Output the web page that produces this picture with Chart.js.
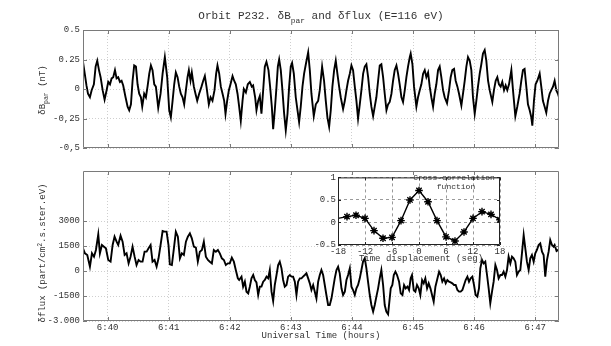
<!DOCTYPE html>
<html>
<head>
<meta charset="utf-8">
<title>Orbit P232</title>
<script src="https://cdn.jsdelivr.net/npm/chart.js@4.4.1/dist/chart.umd.min.js"></script>
<style>
  html, body { margin: 0; padding: 0; background: #fff; }
  #fig { position: relative; width: 611px; height: 346px; overflow: hidden; background: #fff;
         font-family: "Liberation Mono", "DejaVu Sans Mono", monospace; color: #333; }
  #fig canvas { position: absolute; }
  .lbl { position: absolute; white-space: nowrap; line-height: 1; transform: translate(-50%, -50%); }
  .rot { transform: translate(-50%, -50%) rotate(-90deg); }
  .lbl sub { font-size: 72%; vertical-align: baseline; position: relative; top: 0.5em; }
  .lbl sup { font-size: 72%; vertical-align: baseline; position: relative; top: -0.5em; }
</style>
</head>
<body>
<div id="fig">
  <canvas id="topChart" width="611" height="160" style="left:0;top:0"></canvas>
  <canvas id="botChart" width="611" height="186" style="left:0;top:160px"></canvas>
  <canvas id="corrChart" width="210" height="95" style="left:300px;top:170px"></canvas>

  <div class="lbl" style="left:321px;top:16px;font-size:11px">Orbit P232. δB<sub>par</sub> and δflux (E=116 eV)</div>
  <div class="lbl rot" style="left:43px;top:90px;font-size:9px">δB<sub>par</sub> (nT)</div>
  <div class="lbl rot" style="left:43px;top:253px;font-size:9px">δflux (part/cm<sup>2</sup>.s.ster.eV)</div>
  <div class="lbl" style="left:321px;top:336px;font-size:9px">Universal Time (hours)</div>
  <div class="lbl" style="left:454px;top:178px;font-size:8px">Cross-correlation</div>
  <div class="lbl" style="left:456px;top:187px;font-size:8px">function</div>
  <div class="lbl" style="left:421px;top:259px;font-size:9px">Time displacement (seg)</div>
</div>

<script>
// time = seconds after 6:40:00 UT
const bTime = [
  -24.2, -22.3, -20.8, -19.3, -17.4, -15.7, -13.5, -11.8, -10.2, -8.5,
  -6.9, -4.9, -3.0, -1.0, 0.6, 2.3, 3.9, 5.5, 7.2, 8.8,
  10.4, 12.1, 13.7, 15.3, 17.6, 19.6, 21.2, 22.9, 24.5, 26.1,
  27.8, 29.4, 31.0, 32.7, 34.0, 35.9, 37.6, 39.2, 40.9, 42.5,
  44.1, 45.8, 47.4, 49.7, 52.0, 54.0, 56.2, 58.5, 60.5, 62.1,
  63.8, 65.4, 67.0, 68.7, 70.3, 71.9, 73.6, 75.2, 76.9, 78.5,
  79.8, 81.4, 82.7, 84.7, 86.3, 88.0, 89.9, 92.2, 93.9, 95.5,
  97.1, 99.4, 101.1, 103.0, 105.0, 106.6, 107.9, 109.6, 111.2, 112.9,
  114.5, 115.8, 117.4, 119.1, 120.7, 122.7, 124.3, 125.9, 127.6, 129.2,
  130.8, 132.5, 133.8, 135.8, 137.7, 139.7, 141.6, 142.9, 144.9, 146.2,
  147.9, 149.5, 151.1, 152.8, 154.4, 156.0, 158.0, 159.6, 161.3, 162.6,
  164.2, 165.9, 167.2, 168.5, 170.1, 171.7, 173.4, 175.0, 176.7, 178.3,
  179.9, 181.2, 182.9, 184.8, 186.5, 188.1, 189.7, 191.4, 193.0, 194.7,
  197.0, 198.6, 200.2, 202.5, 204.5, 206.8, 208.4, 210.7, 212.6, 214.3,
  215.9, 217.6, 219.2, 220.8, 222.5, 224.1, 225.7, 227.4, 229.0, 231.3,
  233.0, 234.6, 236.2, 237.9, 239.5, 241.1, 242.8, 244.4, 246.0, 247.7,
  249.3, 251.0, 252.6, 254.2, 255.9, 257.5, 259.1, 260.8, 262.4, 264.0,
  265.7, 267.3, 268.9, 270.6, 272.2, 273.9, 275.5, 277.1, 278.8, 280.4,
  282.0, 283.7, 285.3, 286.9, 288.6, 290.2, 291.9, 293.5, 295.1, 296.8,
  297.7, 299.4, 301.0, 303.3, 304.9, 306.6, 308.2, 309.9, 311.5, 313.1,
  314.8, 316.4, 318.0, 319.7, 321.3, 322.9, 324.6, 326.2, 327.8, 329.5,
  331.1, 333.4, 335.4, 337.0, 338.6, 340.3, 341.9, 343.6, 345.2, 347.5,
  349.1, 350.8, 352.4, 354.0, 355.7, 357.3, 358.9, 360.6, 362.2, 363.8,
  365.5, 367.1, 368.7, 370.4, 372.0, 373.7, 375.3, 377.9, 379.5, 381.2,
  382.8, 384.4, 386.1, 387.7, 389.4, 391.0, 392.6, 394.3, 396.6, 398.2,
  400.5, 402.4, 404.7, 406.4, 408.0, 409.6, 411.3, 412.9, 414.6, 416.2,
  417.2, 418.8, 420.4, 422.1, 424.4, 426.0, 427.6, 429.3, 430.9, 432.6,
  434.2, 435.8, 437.5, 439.1, 440.7, 442.4, 443.4
];
// delta B parallel (nT)
const bVal = [
  0.23, 0.12, 0.03, -0.04, -0.07, -0.01, 0.04, 0.19, 0.24, 0.16,
  0.10, -0.01, -0.09, -0.01, 0.06, 0.04, 0.09, 0.10, 0.16, 0.09,
  0.10, 0.06, 0.07, 0.03, -0.07, -0.15, -0.18, -0.13, 0.07, 0.20,
  0.19, 0.04, -0.04, -0.07, -0.15, -0.04, -0.07, 0.02, 0.13, 0.20,
  0.16, 0.04, 0.02, -0.16, -0.04, 0.13, 0.27, 0.10, -0.18, -0.24,
  -0.10, 0.04, 0.14, 0.10, 0.02, -0.04, -0.07, -0.13, -0.01, 0.10,
  0.16, 0.07, 0.14, 0.02, -0.04, -0.10, -0.04, 0.02, 0.07, 0.11,
  0.02, -0.13, -0.07, -0.10, -0.01, 0.13, 0.20, 0.13, 0.02, -0.04,
  -0.10, -0.21, -0.10, -0.01, 0.04, 0.11, 0.07, 0.04, -0.04, -0.15,
  -0.27, -0.10, 0.00, -0.03, 0.04, 0.06, 0.02, 0.03, -0.07, -0.18,
  -0.10, -0.06, -0.21, -0.01, 0.19, 0.23, 0.16, 0.02, -0.15, -0.34,
  -0.18, 0.02, 0.19, 0.25, 0.16, -0.01, -0.21, -0.35, -0.21, 0.02,
  0.19, 0.22, 0.13, -0.07, -0.18, -0.28, -0.15, 0.02, 0.13, 0.21,
  0.31, 0.16, -0.04, -0.23, -0.13, -0.10, -0.01, 0.19, 0.07, -0.10,
  -0.24, -0.32, -0.18, 0.02, 0.16, 0.24, 0.13, 0.02, -0.07, -0.17,
  -0.10, -0.01, 0.07, 0.13, 0.20, 0.16, 0.02, -0.10, -0.25, -0.13,
  -0.01, 0.13, 0.19, 0.21, 0.10, -0.04, -0.15, -0.23, -0.15, -0.07,
  0.07, 0.20, 0.21, 0.10, -0.04, -0.18, -0.13, -0.11, -0.04, 0.07,
  0.16, 0.20, 0.13, 0.04, -0.07, -0.11, -0.01, 0.10, 0.19, 0.27,
  0.30, 0.21, 0.02, -0.15, -0.07, -0.01, 0.04, 0.13, 0.16, 0.10,
  0.14, 0.02, -0.07, -0.15, -0.04, 0.04, 0.16, 0.19, 0.10, -0.01,
  -0.07, -0.12, -0.01, 0.10, 0.16, 0.17, 0.07, 0.02, -0.04, -0.14,
  -0.04, 0.07, 0.19, 0.27, 0.24, 0.16, -0.07, -0.21, -0.10, 0.02,
  0.13, 0.21, 0.30, 0.33, 0.24, 0.07, -0.01, -0.11, -0.01, 0.07,
  0.10, 0.04, 0.02, 0.06, -0.01, 0.03, -0.01, 0.04, 0.16, -0.01,
  -0.23, -0.15, -0.04, 0.07, 0.16, 0.17, 0.02, -0.13, -0.18, -0.24,
  -0.31, -0.10, 0.04, 0.07, 0.13, 0.02, -0.10, -0.15, -0.20, -0.10,
  -0.04, -0.01, 0.02, 0.07, -0.01, -0.04, -0.07
];

const fluxTime = [
  -24.2, -22.3, -20.0, -17.4, -15.4, -13.4, -11.5, -9.2, -7.6, -5.6,
  -3.6, -1.7, 0.6, 2.9, 4.9, 6.8, 8.8, 10.4, 12.7, 14.7,
  16.7, 18.6, 20.6, 22.5, 24.5, 26.5, 28.4, 30.4, 32.4, 34.3,
  36.3, 38.3, 40.2, 42.2, 44.1, 46.1, 48.1, 50.0, 52.0, 54.0,
  55.9, 57.9, 59.8, 61.1, 63.1, 65.1, 67.0, 69.0, 71.0, 72.9,
  74.9, 76.9, 78.8, 80.8, 82.7, 84.7, 86.7, 88.6, 90.6, 92.6,
  94.5, 96.5, 98.5, 100.4, 102.4, 104.3, 106.3, 108.3, 110.2, 112.2,
  114.2, 116.1, 118.1, 120.0, 122.0, 124.0, 125.9, 127.9, 129.2, 131.5,
  133.1, 134.8, 136.4, 138.1, 139.7, 141.3, 143.0, 144.6, 146.2, 147.9,
  149.5, 151.1, 152.8, 154.4, 156.1, 157.7, 159.3, 161.0, 162.6, 164.2,
  165.9, 167.5, 169.1, 170.8, 172.4, 174.0, 175.7, 177.3, 179.0, 180.6,
  182.2, 183.9, 185.5, 187.1, 188.8, 190.4, 192.0, 193.7, 195.3, 197.0,
  198.6, 200.2, 201.9, 203.5, 205.1, 206.8, 208.4, 210.0, 211.7, 213.3,
  214.9, 216.6, 218.2, 219.9, 221.5, 223.1, 224.8, 226.4, 228.0, 229.7,
  231.3, 233.0, 234.6, 236.2, 237.9, 239.5, 241.1, 242.8, 244.4, 246.0,
  247.7, 249.3, 250.9, 252.6, 254.2, 255.8, 257.5, 259.1, 260.8, 262.4,
  264.0, 265.7, 267.3, 268.9, 270.6, 272.2, 273.8, 275.5, 278.1, 279.7,
  281.1, 282.7, 284.3, 286.3, 287.9, 289.6, 291.2, 292.8, 294.5, 296.1,
  297.7, 299.0, 300.7, 302.3, 303.9, 305.6, 307.2, 308.9, 310.5, 312.1,
  313.8, 315.4, 317.1, 318.7, 320.3, 322.0, 323.6, 325.6, 327.2, 328.8,
  330.5, 332.1, 333.7, 335.4, 337.0, 338.6, 340.3, 341.9, 343.6, 345.2,
  346.8, 348.5, 350.1, 351.7, 353.4, 355.0, 356.6, 358.3, 359.9, 361.5,
  363.2, 364.8, 366.1, 367.8, 369.4, 371.0, 372.7, 374.3, 375.9, 377.6,
  379.2, 380.9, 382.5, 384.1, 385.8, 387.4, 389.0, 390.7, 392.3, 393.9,
  395.6, 397.2, 398.8, 400.5, 402.1, 403.8, 405.4, 407.0, 408.7, 410.3,
  411.9, 413.6, 415.2, 416.8, 418.5, 420.1, 421.7, 423.4, 425.0, 426.7,
  428.3, 429.9, 431.6, 433.2, 434.8, 436.5, 438.1, 439.1, 441.0, 443.4
];
// delta flux (part/cm2.s.ster.eV)
const fluxVal = [
  1360, 1060, 960, 260, 1060, 860, 1260, 2200, 1060, 1560,
  1460, 1360, 660, 560, 1560, 2060, 1760, 1560, 2120, 1760,
  960, 1060, 460, 860, 1460, 860, 360, 660, 560, 560,
  1160, 1160, 1360, 1560, 560, 660, 260, 760, 1560, 2400,
  2360, 2360, 1560, 400, 360, 1360, 2360, 2060, 760, 1060,
  960, 1760, 2060, 2260, 1960, 1460, 1400, 560, 1160, 1260,
  1760, 860, 660, 560, 460, 1260, 1160, 1260, 1060, 760,
  660, 360, 460, 460, 800, 560, 60, -440, -540, -340,
  -940, -640, -1240, -1340, -940, -440, -240, -540, -680, -1440,
  -940, -940, -640, -540, -340, -440, 60, -1240, -1800, -840,
  -240, 360, 560, 160, -540, -940, -840, -340, -240, -340,
  -340, -640, -1440, -640, -440, -440, -340, -240, -140, -440,
  -740, -1140, -840, -1240, -1640, -640, -240, 60, -240, -840,
  -1440, -2040, -2040, -1640, -1040, -440, 60, 260, -140, -1040,
  -1440, -1240, -540, -240, 160, -940, -1140, -1440, -1040, -840,
  -440, 60, 560, 760, 160, -640, -1440, -2040, -2440, -2040,
  -1540, -1040, -440, 60, -840, -2040, -2440, -2600, -1040, -840,
  -240, -40, -240, -640, -1340, -1440, -840, -1040, -940, -1140,
  -440, -240, -1140, -1240, -840, -1040, -1440, -540, -740, -440,
  -1040, -740, -1040, -1440, -1840, -940, -540, -40, -240, -640,
  -440, -740, -540, -640, -680, -740, -840, -840, -1140, -1240,
  -1240, -1140, -840, -540, -340, -640, -440, -340, -840, -1440,
  -1540, -1040, 160, 660, 460, 560, -240, -1040, -1940, -1240,
  -640, 360, 60, -440, -240, -240, -40, -340, 60, 860,
  460, 860, 760, 560, -240, -40, 60, 1060, 2160, 1360,
  560, 60, 760, 960, 560, 1060, 1260, 1560, 1660, 1160,
  960, -340, 660, 1160, 1860, 1560, 1460, 1560, 1200, 1300
];

// cross-correlation (inset)
const lagSec = [-18, -16, -14, -12, -10, -8, -6, -4, -2, 0, 2, 4, 6, 8, 10, 12, 14, 16, 18];
const corrVal = [0.09, 0.13, 0.16, 0.09, -0.18, -0.35, -0.33, 0.04, 0.50, 0.71,
                 0.46, 0.04, -0.32, -0.41, -0.21, 0.09, 0.24, 0.18, 0.06];

const minuteTicks = [0, 60, 120, 180, 240, 300, 360, 420];
const minuteLabels = ['6:40', '6:41', '6:42', '6:43', '6:44', '6:45', '6:46', '6:47'];
const bTicks = [-0.5, -0.25, 0, 0.25, 0.5];
const bTickLabels = ['-0,5', '-0,25', '0', '0.25', '0.5'];
const fluxTicks = [-3000, -1500, 0, 1500, 3000];
const fluxTickLabels = ['-3.000', '-1500', '0', '1500', '3000'];
const lagTicks = [-18, -12, -6, 0, 6, 12, 18];
const corrTicks = [-0.5, 0, 0.5, 1];
const corrTickLabels = ['-0.5', '0', '0.5', '1'];

const mono = '"Liberation Mono", "DejaVu Sans Mono", monospace';
const tMin = -24.2, tMax = 443.4;

// box around the axes with inward tick marks
const frameTicks = {
  id: 'frameTicks',
  beforeDraw(chart, args, o) {
    if (!o.fill) return;
    const a = chart.chartArea;
    chart.ctx.save();
    chart.ctx.fillStyle = '#fff';
    chart.ctx.fillRect(a.left, a.top, a.width, a.height);
    chart.ctx.restore();
  },
  afterDraw(chart, args, o) {
    const { ctx, chartArea: a } = chart;
    const x = chart.scales.x, y = chart.scales.y;
    ctx.save();
    ctx.strokeStyle = o.color;
    ctx.lineWidth = 1;
    ctx.beginPath();
    ctx.rect(a.left + 0.5, a.top + 0.5, a.width - 1, a.height - 1);
    x.ticks.forEach(t => {
      const px = Math.round(x.getPixelForValue(t.value)) + 0.5;
      ctx.moveTo(px, a.bottom); ctx.lineTo(px, a.bottom - o.len);
      ctx.moveTo(px, a.top); ctx.lineTo(px, a.top + o.len);
    });
    y.ticks.forEach(t => {
      const py = Math.round(y.getPixelForValue(t.value)) + 0.5;
      ctx.moveTo(a.left, py); ctx.lineTo(a.left + o.len, py);
      ctx.moveTo(a.right, py); ctx.lineTo(a.right - o.len, py);
    });
    ctx.stroke();
    ctx.restore();
  }
};

function toPoints(xs, ys) {
  return xs.map((v, i) => ({ x: v, y: ys[i] }));
}

function seriesChart(id, xs, ys, yMin, yMax, yTicks, yLabels, showX, pad, xHeight) {
  return new Chart(document.getElementById(id), {
    type: 'line',
    data: {
      datasets: [{
        data: toPoints(xs, ys),
        borderColor: '#000',
        borderWidth: 1.9,
        pointRadius: 0,
        tension: 0
      }]
    },
    options: {
      responsive: false,
      animation: false,
      devicePixelRatio: 1,
      layout: { padding: pad },
      plugins: {
        legend: { display: false },
        tooltip: { enabled: false },
        frameTicks: { color: '#7a7a7a', len: 4 }
      },
      scales: {
        x: {
          type: 'linear',
          min: tMin,
          max: tMax,
          afterBuildTicks: s => { s.ticks = minuteTicks.map(v => ({ value: v })); },
          afterFit: s => { s.height = xHeight; },
          ticks: {
            display: showX,
            autoSkip: false,
            maxRotation: 0,
            padding: 1,
            color: '#333',
            font: { family: mono, size: 9 },
            callback: (v, i) => minuteLabels[i]
          },
          grid: { color: '#cfcfcf', drawTicks: false, borderDash: [1, 2] },
          border: { display: false, dash: [1, 2] }
        },
        y: {
          type: 'linear',
          min: yMin,
          max: yMax,
          afterBuildTicks: s => { s.ticks = yTicks.map(v => ({ value: v })); },
          afterFit: s => { s.width = 83; },
          ticks: {
            autoSkip: false,
            padding: 3,
            color: '#333',
            font: { family: mono, size: 9 },
            callback: (v, i) => yLabels[i]
          },
          grid: { color: '#cfcfcf', drawTicks: false, borderDash: [1, 2] },
          border: { display: false, dash: [1, 2] }
        }
      }
    },
    plugins: [frameTicks]
  });
}

seriesChart('topChart', bTime, bVal, -0.5, 0.5, bTicks, bTickLabels, false,
  { top: 30, right: 52, bottom: 12, left: 0 }, 0);
seriesChart('botChart', fluxTime, fluxVal, -3000, 6000, fluxTicks, fluxTickLabels, true,
  { top: 11, right: 52, bottom: 0, left: 0 }, 25);

new Chart(document.getElementById('corrChart'), {
  type: 'line',
  data: {
    datasets: [{
      data: toPoints(lagSec, corrVal),
      borderColor: '#000',
      borderWidth: 1.4,
      pointStyle: 'star',
      pointRadius: lagSec.map((v, i) => (i === 0 ? 0 : 3.8)),
      pointBorderColor: '#000',
      pointBorderWidth: 1.4,
      tension: 0
    }]
  },
  options: {
    responsive: false,
    animation: false,
    devicePixelRatio: 1,
    layout: { padding: { top: 5, right: 10, bottom: 0, left: 0 } },
    plugins: {
      legend: { display: false },
      tooltip: { enabled: false },
      frameTicks: { color: '#222', len: 3, fill: true }
    },
    scales: {
      x: {
        type: 'linear',
        min: -18,
        max: 18,
        afterBuildTicks: s => { s.ticks = lagTicks.map(v => ({ value: v })); },
        afterFit: s => { s.height = 20; },
        ticks: {
          autoSkip: false,
          maxRotation: 0,
          padding: 1,
          color: '#333',
          font: { family: mono, size: 9 },
          callback: (v, i) => String(lagTicks[i])
        },
        grid: { color: '#9a9a9a', drawTicks: false, borderDash: [3, 3] },
        border: { display: false, dash: [3, 3] }
      },
      y: {
        type: 'linear',
        min: -0.5,
        max: 1,
        afterBuildTicks: s => { s.ticks = corrTicks.map(v => ({ value: v })); },
        afterFit: s => { s.width = 38; },
        ticks: {
          autoSkip: false,
          padding: 2,
          color: '#333',
          font: { family: mono, size: 9 },
          callback: (v, i) => corrTickLabels[i]
        },
        grid: { color: '#9a9a9a', drawTicks: false, borderDash: [3, 3] },
        border: { display: false, dash: [3, 3] }
      }
    }
  },
  plugins: [frameTicks]
});
</script>
</body>
</html>
